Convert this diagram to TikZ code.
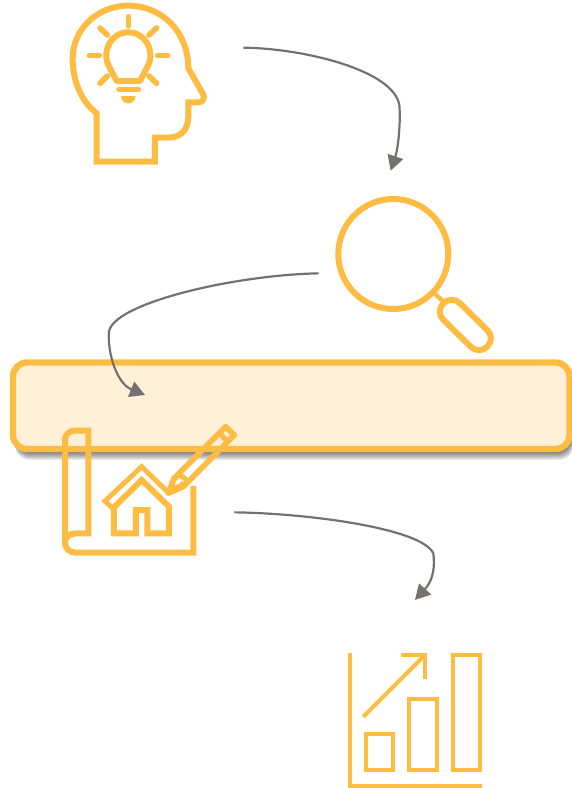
\documentclass[tikz,border=0pt]{standalone}
\usetikzlibrary{arrows.meta}
\definecolor{amber}{HTML}{FFBC42}
\definecolor{cream}{HTML}{FFF1D8}
\definecolor{linkgray}{HTML}{767171}
\tikzset{
  icon/.style={draw=amber,line width=6pt,line join=miter,fill=none},
  ray/.style={draw=amber,line width=5.6pt,line cap=round},
  thin icon/.style={draw=amber,line width=4.2pt,fill=none},
  link/.style={draw=linkgray,line width=2.2pt,-{Triangle[length=15pt,width=16pt,fill=linkgray]}},
  zoomed/.style={x=0.33333pt,y=-0.33333pt},
}
\begin{document}
\begin{tikzpicture}[x=1pt,y=-1pt]
\useasboundingbox (0,0) rectangle (572,788);
\clip (0,0) rectangle (572,788);

% banner with soft shadow
\foreach \i in {1,...,9}{
  \fill[black,opacity=.075,rounded corners=15pt] (15,370) rectangle (571+\i*0.3,451+\i);
}
\draw[draw=amber,fill=cream,line width=6.4pt,rounded corners=14pt] (13,362.5) rectangle (569.5,449);

% head with light bulb
\begin{scope}[shift={(60,0)},zoomed]
  \draw[icon] (110,340) -- (110,485) -- (285,485) -- (285,413) -- (325,413)
     .. controls (362,413) and (385,388) .. (385,350) -- (385,307) -- (415,307)
     .. controls (430,307) and (436,292) .. (428,280) -- (385,205)
     .. controls (385,95) and (305,17) .. (205,17)
     .. controls (110,17) and (38,90) .. (38,175)
     .. controls (38,245) and (65,305) .. (110,340) -- cycle;
  \draw[amber,line width=6pt,line join=round]
     (170,243) -- (240,243) -- (265,195)
     .. controls (285,150) and (255,97) .. (205,97)
     .. controls (155,97) and (125,150) .. (145,195) -- cycle;
  \draw[ray] (205,50) -- (205,78);
  \draw[ray] (88,166) -- (118,166);
  \draw[ray] (293,166) -- (323,166);
  \draw[ray] (120,84) -- (142,105);
  \draw[ray] (290,84) -- (267,105);
  \draw[ray] (120,250) -- (142,228);
  \draw[ray] (290,250) -- (267,228);
  \draw[ray] (177,268) -- (235,268);
  \fill[amber] (183,288) -- (227,288) .. controls (225,318) and (185,318) .. (183,288) -- cycle;
\end{scope}

% magnifier
\draw[icon] (393.3,254) circle (55);
\draw[amber,line width=4.4pt] (435,294) -- (444,302);
\draw[icon,rounded corners=11.4pt] (451.7,295.1) -- (495.6,338.3) -- (479,354.9) -- (435.1,311.7) -- cycle;

% blueprint with house and pencil
\begin{scope}[shift={(50,390)},zoomed]
  \draw[icon] (430,288) -- (430,488) -- (78,488)
     .. controls (58,488) and (45,475) .. (45,458) -- (45,150)
     .. controls (45,133) and (58,122) .. (75,122) -- (115,122) -- (115,430) -- (78,430)
     .. controls (58,430) and (45,442) .. (45,458);
  \draw[icon] (192,352) -- (192,430) -- (258,430) -- (258,360) -- (292,360) -- (292,430)
     -- (357,430) -- (357,350) -- (275,270) -- cycle;
  \draw[amber,line width=5pt] (192,358) -- (165,333) -- (275,230) -- (352,305);
  \draw[amber,line width=5.6pt,line join=round]
     (527,110) -- (553,135) -- (400,290) -- (354,310) -- (372,265) -- cycle;
  \draw[amber,line width=5pt] (508,128) -- (533,156);
  \draw[amber,line width=5pt] (380,256) .. controls (402,256) and (412,270) .. (412,285);
  \fill[amber] (354,310) -- (366,270) .. controls (390,262) and (400,268) .. (402,286) -- cycle;
  \fill[white] (375,285) .. controls (375,268) and (390,262) .. (396,272) .. controls (392,280) and (385,282) .. (375,285) -- cycle;
\end{scope}

% bar chart
\begin{scope}[shift={(340,640)},zoomed]
  \draw[thin icon] (30,40) -- (30,437) -- (426,437);
  \draw[thin icon] (77,283) rectangle (160,390);
  \draw[thin icon] (207,177) rectangle (290,390);
  \draw[thin icon] (338,45) rectangle (420,390);
  \draw[thin icon] (70,230) -- (255,45);
  \draw[thin icon] (183,45) -- (255,45) -- (255,117);
\end{scope}

% connectors
\begin{scope}[shift={(230,30)},zoomed]
  \coordinate (s1) at (40,53);
  \coordinate (e1) at (482,422);
  \draw[link] (s1) .. controls (220,55) and (490,120) .. (508,225)
     .. controls (512,270) and (506,350) .. (e1);
\end{scope}
\begin{scope}[shift={(100,260)},zoomed]
  \coordinate (s2) at (656,40);
  \coordinate (e2) at (135,405);
  \draw[link] (s2) .. controls (400,45) and (40,130) .. (27,215)
     .. controls (22,280) and (50,370) .. (e2);
\end{scope}
\begin{scope}[shift={(225,500)},zoomed]
  \coordinate (s3) at (28,37);
  \coordinate (e3) at (570,300);
  \draw[link] (s3) .. controls (250,40) and (590,85) .. (625,160)
     .. controls (630,200) and (625,240) .. (e3);
\end{scope}
\end{tikzpicture}
\end{document}
